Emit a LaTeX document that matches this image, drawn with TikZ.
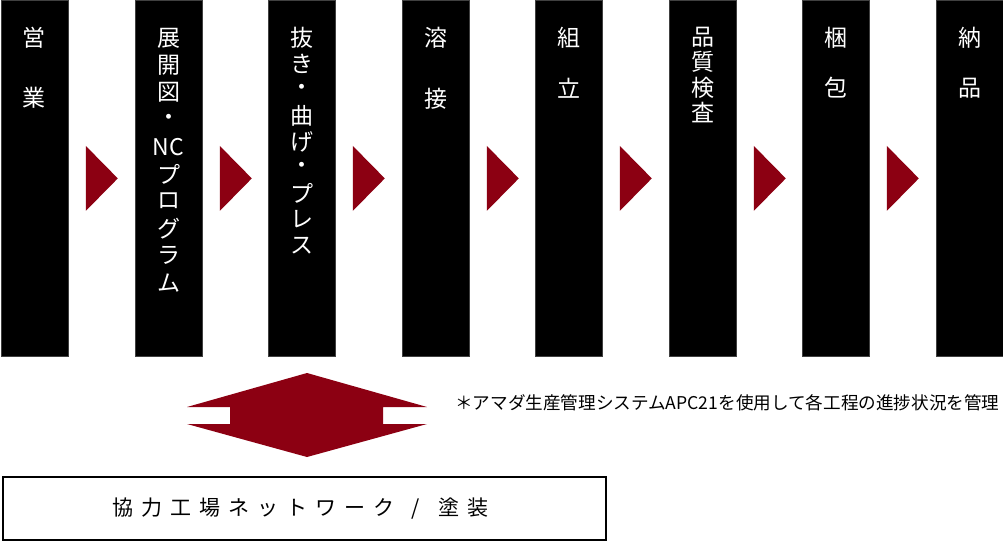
\documentclass[tikz,border=0pt]{standalone}
\usepackage{fontspec}
\newfontfamily\jp{Noto Sans CJK JP}
\usetikzlibrary{calc}
\definecolor{arrowred}{RGB}{140,0,18}
\newcommand\vlabel[5]{%
  \foreach \c [count=\k] in {#5}
    \node[lbl] (#1-\k) at (#2, {#3+(\k-1)*#4}) {\c};%
}
\begin{document}
\begin{tikzpicture}[x=1pt,y=-1pt,
  col/.style={fill=black, draw=black!75, line width=0.8pt, minimum width=67pt, minimum height=356pt, anchor=north west, inner sep=0pt},
  lbl/.style={text=white, font=\jp\fontsize{23}{23}\selectfont, inner sep=0pt},
  tri/.style={fill=arrowred},
]
\useasboundingbox (0,0) rectangle (1003,543);
\foreach \i/\x in {1/1,2/135,3/268,4/402,5/535,6/669,7/802,8/936}
  \node[col] (b\i) at (\x,0) {};
\foreach \i in {1,...,7}
  \fill[tri] ($(b\i.east)+(17,-32.5)$) -- ($(b\i.east)+(49,0)$) -- ($(b\i.east)+(17,32.5)$) -- cycle;
\vlabel{l1}{34.5}{38}{60}{営,業}
\vlabel{l2}{168.5}{38}{27.2}{展,開,図,・,NC,プ,ロ,グ,ラ,ム}
\vlabel{l3}{301.5}{38}{25.9}{抜,き,・,曲,げ,・,プ,レ,ス}
\vlabel{l4}{435.5}{38}{61}{溶,接}
\vlabel{l5}{568.5}{38}{50}{組,立}
\vlabel{l6}{702.5}{37}{25.3}{品,質,検,査}
\vlabel{l7}{835.5}{38}{50}{梱,包}
\vlabel{l8}{969.5}{38}{50}{納,品}
% double arrow
\fill[arrowred] (187,407) -- (307,373) -- (427,407) -- (383,407) -- (383,424) -- (427,424)
  -- (307,457) -- (187,424) -- (230,424) -- (230,407) -- cycle;
\node[anchor=west, inner sep=0pt, font=\jp\fontsize{17.6}{17.6}\selectfont] (note) at (455,403)
  {＊アマダ生産管理システムAPC21を使用して各工程の進捗状況を管理};
\node[draw=black, line width=1.5pt, minimum width=603pt, minimum height=63pt, anchor=north west, inner sep=0pt] (net) at (2,476) {};
\node[anchor=west, inner sep=0pt, font=\jp\fontsize{21}{21}\selectfont] (netlabel) at (112,509)
  {\addfontfeature{LetterSpace=38}協力工場ネットワーク\hspace{17pt}/\hspace{19pt}塗装};
\end{tikzpicture}
\end{document}
